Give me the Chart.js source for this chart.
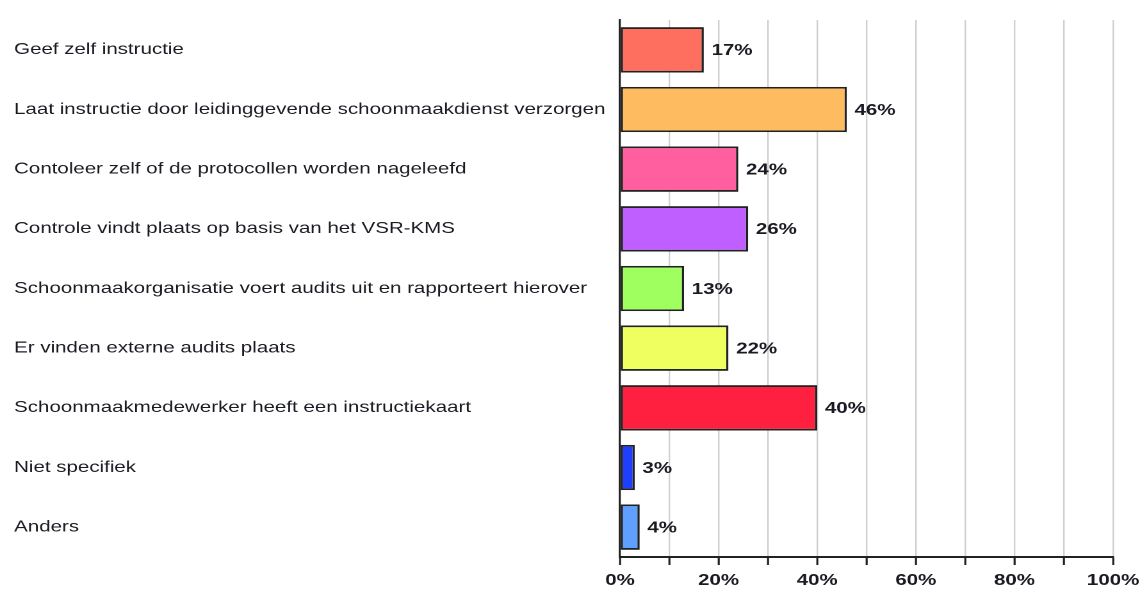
<!DOCTYPE html>
<html>
<head>
<meta charset="utf-8">
<script src="https://cdn.jsdelivr.net/npm/chart.js@4.4.1/dist/chart.umd.min.js"></script>
<style>
  html, body { margin: 0; padding: 0; background: #fff; }
  #wrap { width: 1140px; height: 595px; }
  /* het origineel is horizontaal uitgerekt, dus canvas smal tekenen en breed tonen */
  #chart { width: 1140px !important; height: 595px !important; }
</style>
</head>
<body>
<div id="wrap"><canvas id="chart" width="890" height="595" style="width:1140px;height:595px"></canvas></div>
<script>
// categorieen en percentages
const categories = [
  'Geef zelf instructie',
  'Laat instructie door leidinggevende schoonmaakdienst verzorgen',
  'Contoleer zelf of de protocollen worden nageleefd',
  'Controle vindt plaats op basis van het VSR-KMS',
  'Schoonmaakorganisatie voert audits uit en rapporteert hierover',
  'Er vinden externe audits plaats',
  'Schoonmaakmedewerker heeft een instructiekaart',
  'Niet specifiek',
  'Anders'
];
const percentages = [17, 46, 24, 26, 13, 22, 40, 3, 4];
const barColors = ['#ff6f5f', '#ffbb5f', '#ff5f9f', '#bf5fff', '#9fff5f', '#efff5f', '#ff1f3f', '#1f3fff', '#5f9fff'];
const xTicks = [0, 20, 40, 60, 80, 100];

const fontFamily = '"Liberation Sans", Arial, sans-serif';

// labels met percentage rechts naast de balk
const valueLabels = {
  id: 'valueLabels',
  afterDatasetsDraw(chart) {
    const ctx = chart.ctx;
    const meta = chart.getDatasetMeta(0);
    ctx.save();
    ctx.font = 'bold 16px ' + fontFamily;
    ctx.fillStyle = '#1a1a22';
    ctx.textBaseline = 'middle';
    ctx.textAlign = 'left';
    meta.data.forEach((bar, i) => {
      ctx.fillText(percentages[i] + '%', bar.x + 6, bar.y + 1);
    });
    ctx.restore();
  }
};

const ctx = document.getElementById('chart').getContext('2d');
new Chart(ctx, {
  type: 'bar',
  data: {
    labels: categories,
    datasets: [{
      data: percentages,
      backgroundColor: barColors,
      borderColor: '#222',
      borderWidth: 1.8,
      borderSkipped: false,
      barPercentage: 0.76,
      categoryPercentage: 1.0
    }]
  },
  options: {
    indexAxis: 'y',
    responsive: false,
    animation: false,
    devicePixelRatio: 2,
    layout: { padding: { left: 11, right: 21, top: 20, bottom: 0 } },
    plugins: {
      legend: { display: false },
      tooltip: { enabled: false }
    },
    scales: {
      x: {
        min: 0,
        max: 100,
        ticks: {
          stepSize: 10,
          color: '#1a1a22',
          font: { family: fontFamily, size: 16, weight: 'bold' },
          padding: 6,
          maxRotation: 0,
          autoSkip: false,
          callback: (v) => xTicks.includes(v) ? v + '%' : ''
        },
        grid: {
          color: '#cfcfcf',
          lineWidth: 1.2,
          tickColor: '#222',
          tickLength: 8,
          tickWidth: 1.6
        },
        border: { display: true, color: '#222', width: 2 },
        afterFit: (scale) => {
          scale.height = 38;
          scale.paddingLeft = 0;
          scale.paddingRight = 0;
        }
      },
      y: {
        ticks: {
          crossAlign: 'far',
          color: '#1a1a22',
          font: { family: fontFamily, size: 16 }
        },
        grid: { display: false },
        border: { display: true, color: '#222', width: 1.6 },
        afterFit: (scale) => { scale.width = 473; }
      }
    }
  },
  plugins: [valueLabels]
});
</script>
</body>
</html>
